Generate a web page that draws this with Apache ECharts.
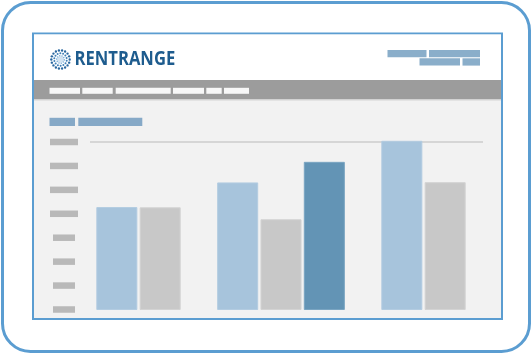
<!DOCTYPE html>
<html>
<head>
<meta charset="utf-8">
<script src="https://cdn.jsdelivr.net/npm/echarts@6/dist/echarts.min.js"></script>
<style>html,body{margin:0;padding:0;background:#fff}#c{width:532px;height:355px}</style>
</head>
<body>
<div id="c"></div>
<script>
// ---- data ----
const groups = ['G1', 'G2', 'G3'];
const lightSeries = [4.26, 5.29, 7.03];
const graySeries = [4.25, 3.75, 5.30];
const darkSeries = [null, 6.15, null];
const yTicks = [0, 1, 2, 3, 4, 5, 6, 7];

const allSeries = [lightSeries, graySeries, darkSeries];
const fills = ['#a7c4dc', '#c8c8c8', '#6394b5'];
const strokes = ['#b3cce1', '#d3d3d3', '#7aa5c2'];

const chart = echarts.init(document.getElementById('c'), null, {renderer: 'canvas'});

function makeRender(sIdx) {
  return function (params, api) {
    const ci = api.value(0);
    const present = allSeries.map(a => a[ci] != null);
    const order = present.slice(0, sIdx).filter(Boolean).length;
    const n = present.filter(Boolean).length;
    const base = api.coord([ci, 0]);
    const top = api.coord([ci, api.value(1)]);
    const band = api.size([1, 0])[0];
    const bw = band * 0.281, gap = band * 0.023;
    const total = n * bw + (n - 1) * gap;
    const x = base[0] - total / 2 + order * (bw + gap);
    return {
      type: 'rect',
      shape: {x: x, y: top[1], width: bw, height: base[1] - top[1]},
      style: {fill: fills[sIdx], stroke: strokes[sIdx], lineWidth: 1}
    };
  };
}

// decorative logo dots
const logo = [];
const cx = 60.5, cy = 59.5;
function ring(r, n, dr, col, off) {
  for (let i = 0; i < n; i++) {
    const a = (i / n) * Math.PI * 2 + off;
    logo.push({type: 'circle', shape: {cx: cx + r * Math.cos(a), cy: cy + r * Math.sin(a), r: dr}, style: {fill: col}, z: 1});
  }
}
logo.push({type: 'circle', shape: {cx: cx, cy: cy, r: 3.2}, style: {fill: '#d3e3f1'}, z: 1});
ring(9.2, 18, 1.2, '#2a68a0', 0);
ring(6.3, 14, 1.0, '#3f7fb6', 0.2);
ring(3.8, 10, 0.8, '#7fb0d8', 0.1);

const blocks = [];
function blk(x, y, w, h, col) {
  blocks.push({type: 'rect', shape: {x: x, y: y, width: w, height: h}, style: {fill: col}, z: 1});
}
// top right placeholder
blk(387.5, 50, 39, 7.3, '#8aaeca'); blk(429, 50, 51, 7.3, '#8aaeca');
blk(419.5, 58.3, 40.5, 7.3, '#8aaeca'); blk(462.5, 58.3, 17.5, 7.3, '#8aaeca');
// header bar placeholder
[[49.5, 80], [82.3, 112.7], [115.7, 170.7], [173, 204], [206.3, 221.7], [224, 249]].forEach(p => blk(p[0], 87.8, p[1] - p[0], 6, '#f7f7f7'));
// chart subtitle placeholder
blk(49.5, 117.8, 25.5, 8.2, '#86a9c7'); blk(78.3, 117.8, 64, 8.2, '#86a9c7');

const option = {
  animation: false,
  backgroundColor: '#ffffff',
  graphic: [
    {type: 'rect', shape: {x: 2.5, y: 2.5, width: 527, height: 349, r: 28}, style: {fill: '#ffffff', stroke: '#5b9dd1', lineWidth: 3}, z: 0},
    {type: 'rect', shape: {x: 33, y: 33.5, width: 469, height: 285.5}, style: {fill: '#f2f2f2', stroke: '#5b9dd1', lineWidth: 2}, z: 0},
    {type: 'rect', shape: {x: 34, y: 34.5, width: 467, height: 45.5}, style: {fill: '#ffffff'}, z: 0},
    {type: 'rect', shape: {x: 34, y: 80, width: 467, height: 19.5}, style: {fill: '#9c9c9c'}, z: 0},
    {type: 'rect', shape: {x: 34, y: 99.5, width: 467, height: 1.2}, style: {fill: '#dedede'}, z: 0},
    {type: 'text', x: 74.5, y: 59.5, scaleX: 0.875, style: {text: 'RENTRANGE', x: 0, y: 0, font: 'bold 19px "Open Sans"', fill: '#1e5c8e', verticalAlign: 'middle'}, z: 1},
    ...logo,
    ...blocks
  ],
  grid: [
    {left: 90, right: 49, top: 142, bottom: 45.5},
    {left: 67.25, right: 37.25, top: 142, bottom: 45.5}
  ],
  xAxis: [
    {gridIndex: 0, type: 'value', show: false},
    {gridIndex: 1, type: 'category', data: groups, show: false}
  ],
  yAxis: [
    {
      gridIndex: 0, type: 'value', min: yTicks[0], max: yTicks[yTicks.length - 1], interval: 1, z: 10,
      axisLine: {show: false}, axisTick: {show: false},
      axisLabel: {
        margin: 26, align: 'center',
        formatter: v => (v >= 4 ? '{w|}' : '{n|}'),
        rich: {
          w: {width: 28, height: 6.5, backgroundColor: '#b9b9b9'},
          n: {width: 22, height: 6.5, backgroundColor: '#b9b9b9'}
        }
      },
      splitLine: {show: true, lineStyle: {width: 2, color: ['transparent', 'transparent', 'transparent', 'transparent', 'transparent', 'transparent', 'transparent', '#d6d6d6']}}
    },
    {gridIndex: 1, type: 'value', min: 0, max: 7, interval: 1, show: false, splitLine: {show: false}}
  ],
  series: allSeries.map((arr, s) => ({
    type: 'custom',
    xAxisIndex: 1, yAxisIndex: 1, z: 10,
    renderItem: makeRender(s),
    encode: {x: 0, y: 1},
    data: arr.map((v, i) => [i, v]).filter(d => d[1] != null)
  }))
};
chart.setOption(option);
</script>
</body>
</html>
